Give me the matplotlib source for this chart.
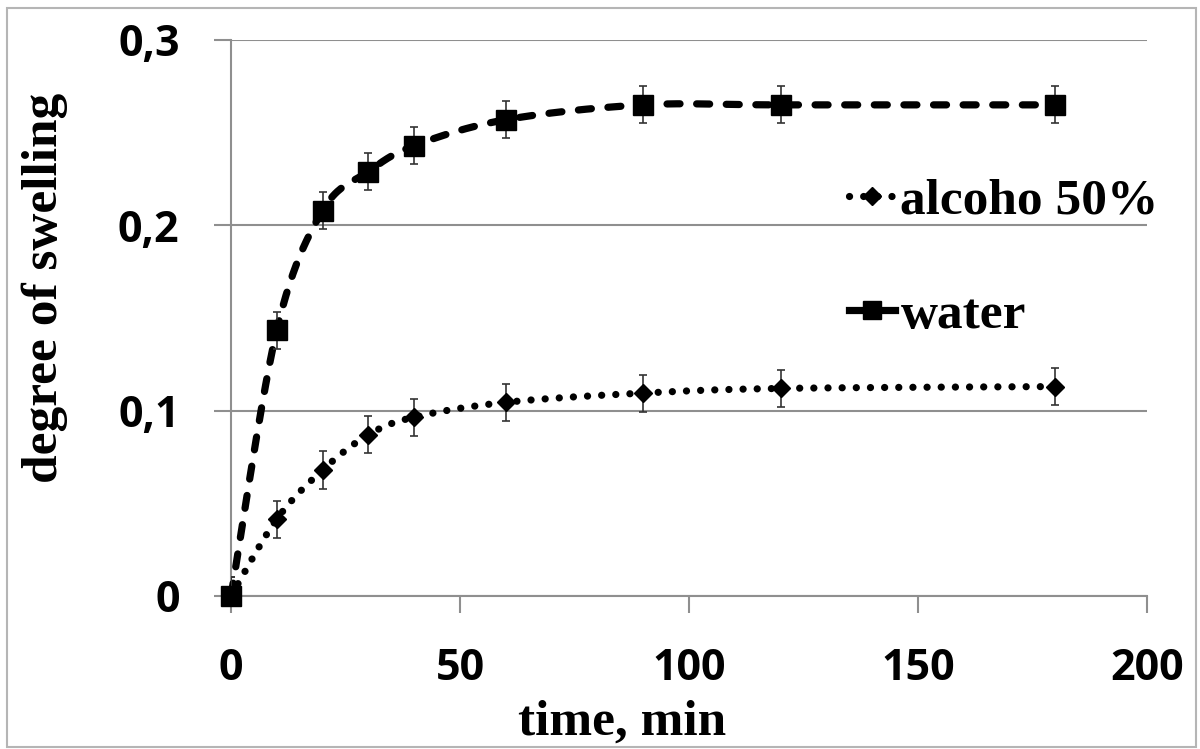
import numpy as np
import matplotlib
matplotlib.use("Agg")
import matplotlib.pyplot as plt
from matplotlib.lines import Line2D
from matplotlib.patches import Rectangle
from matplotlib.ticker import FixedLocator, FuncFormatter

# --- data -------------------------------------------------------------
time_min = [0, 10, 20, 30, 40, 60, 90, 120, 180]
water = [0.0, 0.1435, 0.208, 0.229, 0.243, 0.257, 0.265, 0.265, 0.265]
alcohol = [0.0, 0.0415, 0.068, 0.087, 0.0965, 0.1045, 0.1095, 0.112, 0.113]
water_err = [0.01] * len(time_min)
alcohol_err = [0.01] * len(time_min)

series_labels = ["alcoho 50%", "water"]
x_ticks = [0, 50, 100, 150, 200]
y_ticks = [0, 0.1, 0.2, 0.3]


def smooth_curve(xs, ys, n=40):
    """Cubic Bezier smoothing through every point (spreadsheet-style)."""
    p = np.column_stack([xs, ys]).astype(float)
    pts = []
    m = len(p)
    for i in range(m - 1):
        p0 = p[i - 1] if i > 0 else p[i]
        p1 = p[i]
        p2 = p[i + 1]
        p3 = p[i + 2] if i + 2 < m else p[i + 1]
        c1 = p1 + (p2 - p0) / 6.0
        c2 = p2 - (p3 - p1) / 6.0
        t = np.linspace(0, 1, n, endpoint=(i == m - 2))[:, None]
        seg = ((1 - t) ** 3) * p1 + 3 * ((1 - t) ** 2) * t * c1 \
            + 3 * (1 - t) * t ** 2 * c2 + t ** 3 * p2
        pts.append(seg)
    pts = np.vstack(pts)
    return pts[:, 0], pts[:, 1]


W, H = 1200, 749
fig = plt.figure(figsize=(W / 100, H / 100), dpi=100)
fig.patch.set_facecolor("white")

# outer frame around the chart area
fig.patches.append(Rectangle((7 / W, 1 - 747 / H), (1196 - 7) / W, (747 - 8) / H,
                             transform=fig.transFigure, fill=False,
                             edgecolor="#b5b5b5", linewidth=1.5, zorder=0))

ax = fig.add_axes([231 / W, 1 - 596 / H, (1147 - 231) / W, (596 - 40) / H])
ax.set_xlim(0, 200)
ax.set_ylim(0, 0.3)

grey = "#8f8f8f"
for side in ("top", "right"):
    ax.spines[side].set_visible(False)
for side in ("left", "bottom"):
    ax.spines[side].set_color(grey)
    ax.spines[side].set_linewidth(1.5)

ax.yaxis.set_major_locator(FixedLocator(y_ticks))
ax.xaxis.set_major_locator(FixedLocator(x_ticks))
ax.yaxis.set_major_formatter(FuncFormatter(
    lambda v, _: "0" if abs(v) < 1e-9 else f"{v:.1f}".replace(".", ",")))
ax.xaxis.set_major_formatter(FuncFormatter(lambda v, _: f"{v:.0f}"))
ax.grid(axis="y", color=grey, linewidth=1.5)
ax.set_axisbelow(True)

ax.tick_params(axis="both", direction="out", length=12, width=1.5,
               color=grey, pad=25)
for lbl in ax.get_xticklabels() + ax.get_yticklabels():
    lbl.set_fontfamily("Open Sans")
    lbl.set_fontweight("bold")
    lbl.set_fontsize(31)

# line styles
water_lw, alc_lw = 5.2, 5.2
water_dash = (0, (1.8, 2.3))
alc_dots = (0, (0.01, 1.95))

# water: dashed smooth line with square markers
wx, wy = smooth_curve(time_min, water)
ax.plot(wx, wy, color="black", linewidth=water_lw, linestyle=water_dash,
        dash_capstyle="round", zorder=3, clip_on=False)
ax.errorbar(time_min, water, yerr=water_err, fmt="none", ecolor="#333333",
            elinewidth=1.2, capsize=3, capthick=1.2, zorder=4)
ax.plot(time_min, water, linestyle="none", marker="s", markersize=14,
        color="black", zorder=5, clip_on=False)

# alcohol: dotted smooth line with diamond markers
axx, axy = smooth_curve(time_min, alcohol)
ax.plot(axx, axy, color="black", linewidth=alc_lw, linestyle=alc_dots,
        dash_capstyle="round", zorder=3, clip_on=False)
ax.errorbar(time_min, alcohol, yerr=alcohol_err, fmt="none", ecolor="#333333",
            elinewidth=1.2, capsize=3, capthick=1.2, zorder=4)
ax.plot(time_min, alcohol, linestyle="none", marker="D", markersize=9.5,
        color="black", zorder=5, clip_on=False)

label_font = dict(family="Liberation Serif", weight="bold", size=37)
fig.text(622 / W, 1 - 735 / H, "time, min", ha="center", va="baseline",
         **label_font)
fig.text(45 / W, 1 - 288 / H, "degree of swelling", ha="center", va="center",
         rotation=90, **label_font)

handles = [
    Line2D([], [], color="black", linewidth=alc_lw, linestyle=alc_dots,
           dash_capstyle="round", marker="D", markersize=9.5),
    Line2D([], [], color="black", linewidth=water_lw, linestyle="-",
           marker="s", markersize=13),
]
ax.legend(handles, series_labels, loc="upper left",
          bbox_to_anchor=(849 / W, 1 - 178 / H), bbox_transform=fig.transFigure,
          frameon=False, prop=dict(family="Liberation Serif", weight="bold", size=37),
          handlelength=0.9, handletextpad=0.1, labelspacing=1.3,
          borderpad=0, borderaxespad=0, markerscale=1.0)

fig.savefig("out.png", dpi=100, facecolor="white")
